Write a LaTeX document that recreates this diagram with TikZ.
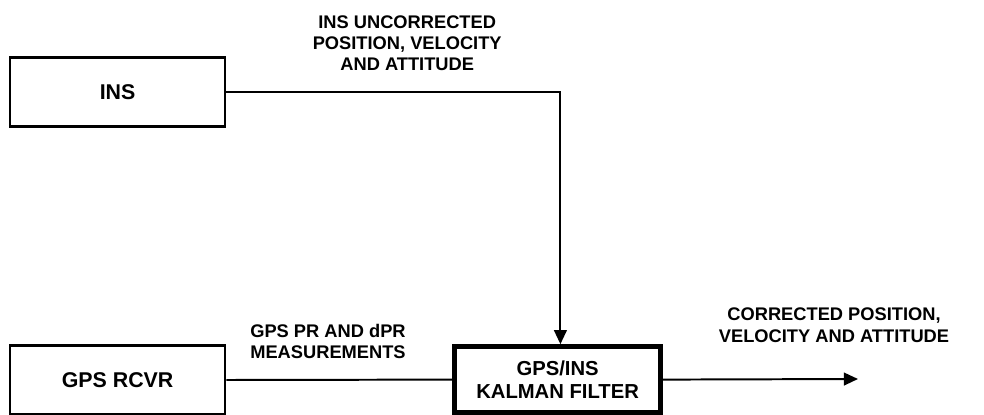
\documentclass[tikz,border=0pt]{standalone}
\usepackage{fontspec}
\setmainfont{Liberation Sans}
\usetikzlibrary{arrows.meta,positioning}

\begin{document}
\begin{tikzpicture}[font=\bfseries\fontsize{13}{15}\selectfont,
  blk/.style={draw,line width=1.8pt,minimum width=5.375cm,minimum height=1.72cm,align=center,font=\bfseries\fontsize{15.2}{17}\selectfont},
  kal/.style={draw,line width=3.4pt,minimum width=5.15cm,minimum height=1.65cm,align=center,font=\bfseries\fontsize{14.4}{16.3}\selectfont},
  lbl/.style={align=center,inner sep=0pt},
  arr/.style={line width=1.4pt,-{Triangle[length=10pt,width=9pt]}}]
\useasboundingbox (0,0) rectangle (24.6,-10.375);
\node[blk] (ins) at (2.94,-2.3) {INS};
\node[blk] (rcvr) at (2.94,-9.5) {GPS RCVR};
\node[kal] (kf) at (13.94,-9.49) {GPS/INS\\KALMAN FILTER};
\coordinate (out) at (21.45,-9.475);
\node[lbl] (unc) at (10.18,-1.08) {INS UNCORRECTED\\POSITION, VELOCITY\\AND ATTITUDE};
\node[lbl] (meas) at (8.2,-8.53) {GPS PR AND dPR\\MEASUREMENTS};
\node[lbl] (corr) at (20.85,-8.13) {CORRECTED POSITION,\\VELOCITY AND ATTITUDE};
\draw[arr] (ins.east) -| ([xshift=2pt]kf.north);
\draw[line width=1.4pt] (rcvr.east) -- (kf.west);
\draw[arr] (kf.east) -- (out);
\end{tikzpicture}
\end{document}
